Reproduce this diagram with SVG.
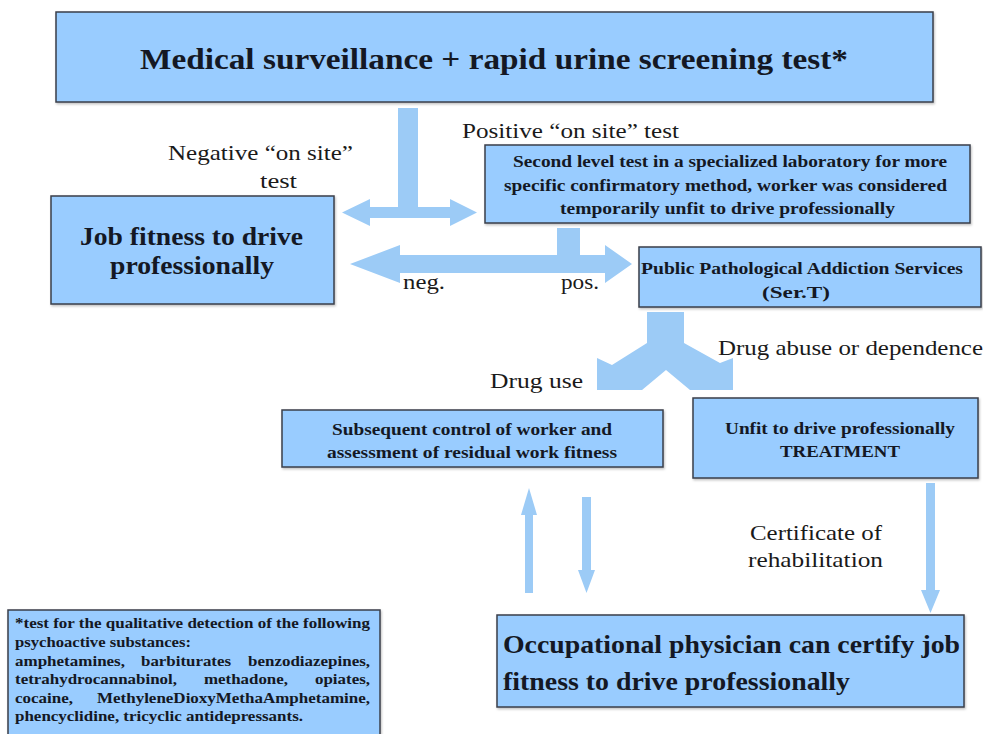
<svg xmlns="http://www.w3.org/2000/svg" width="983" height="734" viewBox="0 0 983 734">
  <style>
    .box { fill: #99CCFF; stroke: #3a3f4a; stroke-width: 1.5; }
    .arrow { fill: #9CCBF6; stroke: none; }
    .bt { font-family: "Liberation Serif", "Times New Roman", serif; font-weight: bold; fill: #141824; }
    .lbl { font-family: "Liberation Serif", "Times New Roman", serif; fill: #1a1a1a; font-size: 22px; }
    .fn { font-size: 14px; }
  </style>
  <defs>
    <filter id="shadow" x="-5%" y="-5%" width="110%" height="120%">
      <feDropShadow dx="1" dy="1.5" stdDeviation="1" flood-color="#000" flood-opacity="0.25"/>
    </filter>
  </defs>
  <rect width="983" height="734" fill="#ffffff"/>

  <!-- connectors -->
  <g id="connectors">
    <!-- screening result: stem splitting into a left/right double arrow -->
    <polygon class="arrow" points="398,108 418,108 418,207 450,207 450,199 477,212.5 450,226 450,218 370,218 370,226 342,212.5 370,199 370,207 398,207"/>
    <!-- second level test: neg. / pos. double arrow -->
    <polygon class="arrow" points="557,228 580,228 580,255 605,255 605,245 632,264 605,283 605,273 400,273 400,283 350,264 400,245 400,255 557,255"/>
    <!-- Ser.T split arrow: drug use / drug abuse -->
    <polygon class="arrow" points="647,312 684,312 684,343 720,363 733,358 733,390 690,390 666,370 642,390 597,390 597,358 612,365 647,343"/>
    <!-- up arrow to follow-up control -->
    <polygon class="arrow" points="525,593 525,515 521,515 529,488 537,515 533,515 533,593"/>
    <!-- down arrow from follow-up control -->
    <polygon class="arrow" points="582,497 591,497 591,570 595,570 586.5,593 578,570 582,570"/>
    <!-- treatment to certification -->
    <polygon class="arrow" points="926,483 935,483 935,590 940,590 930.5,613 921,590 926,590"/>
  </g>

  <!-- free labels on the connectors -->
  <g id="labels">
    <text class="lbl" x="168" y="160" textLength="185" lengthAdjust="spacingAndGlyphs">Negative “on site”</text>
    <text class="lbl" x="260" y="188" textLength="37" lengthAdjust="spacingAndGlyphs">test</text>
    <text class="lbl" x="462" y="138" textLength="217" lengthAdjust="spacingAndGlyphs">Positive “on site” test</text>
    <text class="lbl" x="403" y="289" textLength="42" lengthAdjust="spacingAndGlyphs">neg.</text>
    <text class="lbl" x="561" y="289" textLength="38" lengthAdjust="spacingAndGlyphs">pos.</text>
    <text class="lbl" x="718" y="355" textLength="265" lengthAdjust="spacingAndGlyphs">Drug abuse or dependence</text>
    <text class="lbl" x="490" y="388" textLength="93" lengthAdjust="spacingAndGlyphs">Drug use</text>
    <text class="lbl" x="750" y="540" textLength="132" lengthAdjust="spacingAndGlyphs">Certificate of</text>
    <text class="lbl" x="748" y="567" textLength="135" lengthAdjust="spacingAndGlyphs">rehabilitation</text>
  </g>

  <g id="screening">
    <rect class="box" x="56" y="12" width="877" height="90" filter="url(#shadow)"/>
    <text class="bt" x="140" y="69" font-size="30" textLength="708" lengthAdjust="spacingAndGlyphs">Medical surveillance + rapid urine screening test*</text>
  </g>

  <g id="job-fitness">
    <rect class="box" x="51" y="196" width="283" height="108" filter="url(#shadow)"/>
    <text class="bt" x="80" y="245" font-size="26" textLength="223" lengthAdjust="spacingAndGlyphs">Job fitness to drive</text>
    <text class="bt" x="110" y="274" font-size="26" textLength="164" lengthAdjust="spacingAndGlyphs">professionally</text>
  </g>

  <g id="second-level">
    <rect class="box" x="485" y="145" width="485" height="78" filter="url(#shadow)"/>
    <text class="bt" x="513" y="167" font-size="16" textLength="434" lengthAdjust="spacingAndGlyphs">Second level test in a specialized laboratory for more</text>
    <text class="bt" x="504" y="191" font-size="16" textLength="443" lengthAdjust="spacingAndGlyphs">specific confirmatory method, worker was considered</text>
    <text class="bt" x="560" y="214" font-size="16" textLength="335" lengthAdjust="spacingAndGlyphs">temporarily unfit to  drive professionally</text>
  </g>

  <g id="sert">
    <rect class="box" x="639" y="247" width="342" height="60" filter="url(#shadow)"/>
    <text class="bt" x="641" y="274" font-size="16.5" textLength="322" lengthAdjust="spacingAndGlyphs">Public Pathological Addiction Services</text>
    <text class="bt" x="762" y="298" font-size="16.5" textLength="68" lengthAdjust="spacingAndGlyphs">(Ser.T)</text>
  </g>

  <g id="follow-up">
    <rect class="box" x="282" y="410" width="381" height="57" filter="url(#shadow)"/>
    <text class="bt" x="332" y="435" font-size="17" textLength="280" lengthAdjust="spacingAndGlyphs">Subsequent control of worker and</text>
    <text class="bt" x="327" y="458" font-size="17" textLength="290" lengthAdjust="spacingAndGlyphs">assessment of residual work fitness</text>
  </g>

  <g id="treatment">
    <rect class="box" x="693" y="398" width="285" height="80" filter="url(#shadow)"/>
    <text class="bt" x="725" y="434" font-size="17" textLength="230" lengthAdjust="spacingAndGlyphs">Unfit to drive professionally</text>
    <text class="bt" x="780" y="457" font-size="17" textLength="120" lengthAdjust="spacingAndGlyphs">TREATMENT</text>
  </g>

  <g id="certification">
    <rect class="box" x="497" y="615" width="467" height="92" filter="url(#shadow)"/>
    <text class="bt" x="503" y="653" font-size="26" textLength="457" lengthAdjust="spacingAndGlyphs">Occupational physician can certify job</text>
    <text class="bt" x="503" y="690" font-size="26" textLength="347" lengthAdjust="spacingAndGlyphs">fitness to drive professionally</text>
  </g>

  <!-- footnote: justified lines are set word by word -->
  <g id="footnote">
    <rect class="box" x="8" y="610" width="372" height="130" filter="url(#shadow)"/>
    <text class="bt fn" x="15" y="628" textLength="355" lengthAdjust="spacingAndGlyphs">*test for the qualitative detection of the following</text>
    <text class="bt fn" x="15" y="647" textLength="176" lengthAdjust="spacingAndGlyphs">psychoactive substances:</text>
    <text class="bt fn" x="15" y="666" textLength="110" lengthAdjust="spacingAndGlyphs">amphetamines,</text>
    <text class="bt fn" x="141" y="666" textLength="90" lengthAdjust="spacingAndGlyphs">barbiturates</text>
    <text class="bt fn" x="248" y="666" textLength="122" lengthAdjust="spacingAndGlyphs">benzodiazepines,</text>
    <text class="bt fn" x="15" y="684" textLength="162" lengthAdjust="spacingAndGlyphs">tetrahydrocannabinol,</text>
    <text class="bt fn" x="204" y="684" textLength="84" lengthAdjust="spacingAndGlyphs">methadone,</text>
    <text class="bt fn" x="315" y="684" textLength="55" lengthAdjust="spacingAndGlyphs">opiates,</text>
    <text class="bt fn" x="15" y="703" textLength="58" lengthAdjust="spacingAndGlyphs">cocaine,</text>
    <text class="bt fn" x="97" y="703" textLength="273" lengthAdjust="spacingAndGlyphs">MethyleneDioxyMethaAmphetamine,</text>
    <text class="bt fn" x="15" y="721" textLength="288" lengthAdjust="spacingAndGlyphs">phencyclidine, tricyclic antidepressants.</text>
  </g>
</svg>
